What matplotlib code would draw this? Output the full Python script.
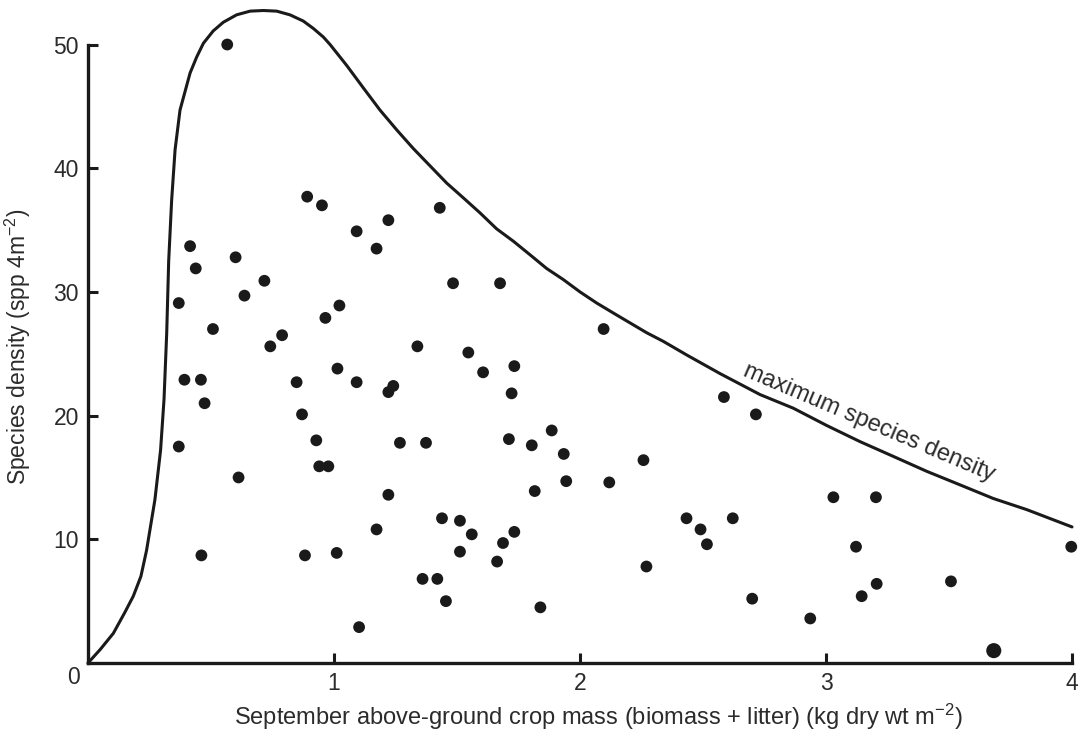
import matplotlib
matplotlib.use("Agg")
import matplotlib.pyplot as plt

plt.rcParams["font.family"] = ["Liberation Sans", "DejaVu Sans"]
plt.rcParams["mathtext.fontset"] = "custom"
plt.rcParams["mathtext.rm"] = "Liberation Sans"
plt.rcParams["mathtext.it"] = "Liberation Sans:italic"

INK = "#1a1a1a"
TXT = "#2b2b2b"

# crop mass (kg dry wt m-2) vs species density (spp 4m-2)
mass = [0.566, 0.891, 0.951, 1.092, 1.221, 1.173, 0.415, 0.438, 0.600, 0.717,
        0.369, 0.636, 1.022, 0.965, 0.508, 0.789, 0.741, 1.014, 0.392, 0.459,
        0.474, 0.369, 0.612, 0.461, 0.848, 1.092, 1.221, 1.241, 0.870, 0.928,
        0.940, 0.977, 1.268, 1.221, 1.173, 0.882, 1.011, 1.102, 1.430, 1.484,
        1.675, 2.096, 1.339, 1.546, 1.606, 1.733, 1.722, 2.585, 1.374, 1.711,
        1.804, 1.885, 1.934, 2.258, 1.944, 2.119, 1.816, 1.439, 1.512, 1.560,
        1.733, 1.687, 1.512, 1.663, 2.433, 2.490, 2.516, 2.621, 2.270, 1.360,
        1.420, 1.455, 1.839, 2.715, 3.030, 3.203, 3.122, 3.997, 3.206, 3.145,
        3.508, 2.700, 2.936]
species = [50.0, 37.7, 37.0, 34.9, 35.8, 33.5, 33.7, 31.9, 32.8, 30.9,
           29.1, 29.7, 28.9, 27.9, 27.0, 26.5, 25.6, 23.8, 22.9, 22.9,
           21.0, 17.5, 15.0, 8.7, 22.7, 22.7, 21.9, 22.4, 20.1, 18.0,
           15.9, 15.9, 17.8, 13.6, 10.8, 8.7, 8.9, 2.9, 36.8, 30.7,
           30.7, 27.0, 25.6, 25.1, 23.5, 24.0, 21.8, 21.5, 17.8, 18.1,
           17.6, 18.8, 16.9, 16.4, 14.7, 14.6, 13.9, 11.7, 11.5, 10.4,
           10.6, 9.7, 9.0, 8.2, 11.7, 10.8, 9.6, 11.7, 7.8, 6.8,
           6.8, 5.0, 4.5, 20.1, 13.4, 13.4, 9.4, 9.4, 6.4, 5.4,
           6.6, 5.2, 3.6]

# larger symbol near the x axis
big_mass = [3.682]
big_species = [1.0]

# maximum species density envelope
env_x = [0.0, 0.050, 0.103, 0.150, 0.184, 0.215, 0.238, 0.272, 0.295, 0.309,
         0.320, 0.328, 0.340, 0.354, 0.374, 0.415, 0.442, 0.469, 0.509, 0.550,
         0.604, 0.659, 0.713, 0.767, 0.821, 0.875, 0.916, 0.957, 0.984, 1.052,
         1.119, 1.187, 1.255, 1.322, 1.390, 1.458, 1.526, 1.593, 1.661, 1.729,
         1.797, 1.864, 1.932, 2.000, 2.068, 2.135, 2.203, 2.271, 2.339, 2.434,
         2.569, 2.732, 2.867, 3.003, 3.138, 3.274, 3.409, 3.545, 3.680, 3.816,
         4.0]
env_y = [0.0, 1.1, 2.4, 4.1, 5.4, 7.0, 9.1, 13.2, 17.2, 21.3,
         26.7, 32.5, 37.4, 41.5, 44.7, 47.7, 49.0, 50.1, 51.1, 51.8,
         52.4, 52.7, 52.75, 52.7, 52.4, 51.9, 51.3, 50.6, 50.0, 48.3,
         46.5, 44.7, 43.1, 41.6, 40.2, 38.8, 37.6, 36.4, 35.1, 34.1,
         33.0, 31.9, 31.0, 30.0, 29.1, 28.3, 27.5, 26.7, 26.0, 24.9,
         23.4, 21.7, 20.6, 19.2, 17.9, 16.7, 15.5, 14.4, 13.3, 12.4,
         11.0]

x_ticks = [1, 2, 3, 4]
y_ticks = [10, 20, 30, 40, 50]

fig = plt.figure(figsize=(10.82, 7.33), dpi=100)
ax = fig.add_axes([88 / 1082, 70 / 733, 984 / 1082, 663 / 733])

ax.plot(env_x, env_y, color=INK, lw=2.2, solid_joinstyle="round",
        solid_capstyle="round", clip_on=False, zorder=2)
ax.scatter(mass, species, s=72, color=INK, edgecolors="none", clip_on=False, zorder=3)
ax.scatter(big_mass, big_species, s=118, color=INK, edgecolors="none",
           clip_on=False, zorder=3)

ax.set_xlim(0, 4)
ax.set_ylim(0, 53.6)
for side in ("top", "right"):
    ax.spines[side].set_visible(False)
for side in ("left", "bottom"):
    ax.spines[side].set_linewidth(2.4)
    ax.spines[side].set_color(INK)
ax.spines["left"].set_bounds(0, 50)
ax.spines["bottom"].set_bounds(0, 4)

ax.set_xticks(x_ticks)
ax.set_yticks(y_ticks)
ax.tick_params(direction="in", length=7.5, width=2.2, color=INK,
               labelsize=16.5, labelcolor=TXT, pad=6.5)
ax.annotate("0", (0, 0), xytext=(-10.8, -10.3), textcoords="offset points",
            ha="center", va="center", fontsize=16.5, color=TXT)

ax.set_xlabel(r"September above-ground crop mass (biomass + litter) (kg dry wt m$^{\mathregular{-2}}$)",
              fontsize=17, color=TXT)
ax.xaxis.label.set_va("baseline")
ax.xaxis.set_label_coords(0.519, -0.0935)
ax.set_ylabel(r"Species density (spp 4m$^{\mathregular{-2}}$)", fontsize=16.5, color=TXT)
ax.yaxis.set_label_coords(-0.056, 0.477)

ax.text(3.175, 19.4, "maximum species density", rotation=-23,
        rotation_mode="anchor", ha="center", va="center",
        fontsize=17, color=TXT)

fig.savefig("out.png", dpi=100)
